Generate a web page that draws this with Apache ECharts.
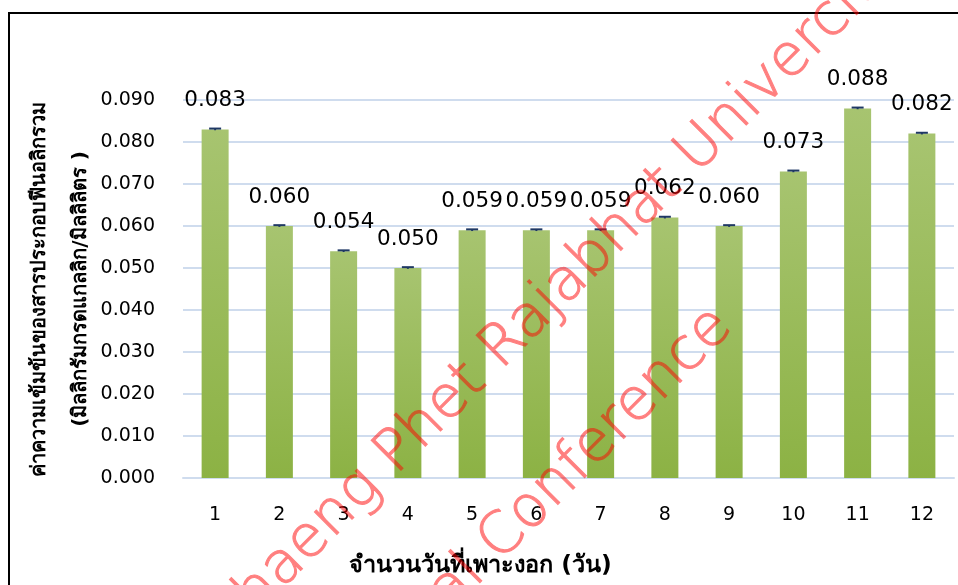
<!DOCTYPE html>
<html>
<head>
<meta charset="utf-8">
<script src="https://cdn.jsdelivr.net/npm/echarts@6/dist/echarts.min.js"></script>
<style>
  html, body { margin: 0; padding: 0; background: #fff; }
  #chart { width: 958px; height: 585px; }
  /* the stamp is drawn opaque on its own layer; the layer itself is half transparent */
  #chart canvas:nth-of-type(2) { opacity: 0.5; }
</style>
</head>
<body>
<div id="chart"></div>
<script>
// Germination days (x categories)
const days = ['1', '2', '3', '4', '5', '6', '7', '8', '9', '10', '11', '12'];
// Total phenolic content (mg gallic acid / mL)
const phenolic = [0.083, 0.060, 0.054, 0.050, 0.059, 0.059, 0.059, 0.062, 0.060, 0.073, 0.088, 0.082];
// Standard deviation for each day (very small)
const errors = [0.0002, 0.0002, 0.0002, 0.0002, 0.0002, 0.0002, 0.0002, 0.0002, 0.0002, 0.0002, 0.0002, 0.0002];
// Value axis range
const yMin = 0;
const yMax = 0.09;
const yStep = 0.01;

const xTitle = 'จำนวนวันที่เพาะงอก (วัน)';
const yTitleLines = ['ค่าความเข้มข้นของสารประกอบฟีนอลิกรวม', '(มิลลิกรัมกรดแกลลิก/มิลลิลิตร )'];
const stampLines = ['Kamphaeng Phet Rajabhat Univercity', 'National Conference'];

const numFont = '"DejaVu Sans", Tahoma, sans-serif';
const thaiFont = 'Tahoma, "DejaVu Sans", "Noto Sans", sans-serif';
const stampFont = '"DejaVu Sans ExtraLight", "DejaVu Sans", sans-serif';

const chart = echarts.init(document.getElementById('chart'), null, { renderer: 'canvas' });

const stampStyle = text => ({
  text,
  fontSize: 58, fontFamily: stampFont, fontWeight: 200,
  fill: '#ff0000', stroke: '#ff0000', lineWidth: 1.1,
  align: 'left', verticalAlign: 'middle'
});

const option = {
  animation: false,
  backgroundColor: '#ffffff',
  grid: { left: 183, right: 4, top: 100, bottom: 107, containLabel: false },
  xAxis: {
    type: 'category',
    data: days,
    axisLine: { show: true, lineStyle: { color: '#cfdcee', width: 2 } },
    axisTick: { show: false },
    axisLabel: { color: '#000', fontSize: 19, fontFamily: numFont, margin: 28 },
    name: xTitle,
    nameLocation: 'middle',
    nameGap: 76,
    nameTextStyle: {
      color: '#000', fontSize: 23.5, fontWeight: 'bold', fontFamily: thaiFont,
      padding: [0, 176, 0, 0]
    }
  },
  yAxis: {
    type: 'value',
    min: yMin,
    max: yMax,
    interval: yStep,
    axisLine: { show: false },
    axisTick: { show: false },
    splitLine: { show: true, lineStyle: { color: '#cfdcee', width: 2 } },
    axisLabel: {
      color: '#000', fontSize: 19, fontFamily: numFont, margin: 28,
      formatter: v => v.toFixed(3)
    },
    name: yTitleLines.join('\n'),
    nameLocation: 'middle',
    nameRotate: 90,
    nameGap: 82,
    nameMoveOverlap: false,
    nameTextStyle: { color: '#000', fontSize: 20, fontWeight: 'bold', fontFamily: thaiFont, lineHeight: 41 }
  },
  series: [
    {
      type: 'bar',
      data: phenolic,
      barWidth: 27,
      itemStyle: {
        color: new echarts.graphic.LinearGradient(0, 0, 0, 1, [
          { offset: 0, color: '#a7c470' },
          { offset: 1, color: '#8cb244' }
        ])
      },
      label: {
        show: true,
        position: 'top',
        distance: 18,
        color: '#000',
        fontSize: 21.5,
        fontFamily: numFont,
        formatter: p => p.value.toFixed(3)
      },
      z: 2
    },
    {
      // Error bars: vertical whisker with a short cap at mean + SD
      type: 'custom',
      data: phenolic.map((v, i) => [i, v, errors[i]]),
      renderItem: (params, api) => {
        const i = api.value(0);
        const v = api.value(1);
        const e = api.value(2);
        const hi = api.coord([i, v + e]);
        const lo = api.coord([i, v - e]);
        const half = 6;
        const style = { stroke: '#1f3864', lineWidth: 2 };
        return {
          type: 'group',
          children: [
            { type: 'line', shape: { x1: hi[0], y1: hi[1], x2: lo[0], y2: lo[1] }, style },
            { type: 'line', shape: { x1: hi[0] - half, y1: hi[1], x2: hi[0] + half, y2: hi[1] }, style }
          ]
        };
      },
      z: 3
    }
  ],
  graphic: [
    // Frame around the chart area
    {
      type: 'rect',
      shape: { x: 9, y: 13, width: 1200, height: 1000 },
      style: { fill: 'none', stroke: '#000', lineWidth: 2 },
      silent: true, z: 1
    },
    // Diagonal conference stamp, on its own layer
    {
      type: 'text', x: 128, y: 722, rotation: Math.PI / 4,
      style: stampStyle(stampLines[0]),
      silent: true, zlevel: 1
    },
    {
      type: 'text', x: 305, y: 736, rotation: Math.PI / 4,
      style: stampStyle(stampLines[1]),
      silent: true, zlevel: 1
    }
  ]
};

chart.setOption(option);
</script>
</body>
</html>
